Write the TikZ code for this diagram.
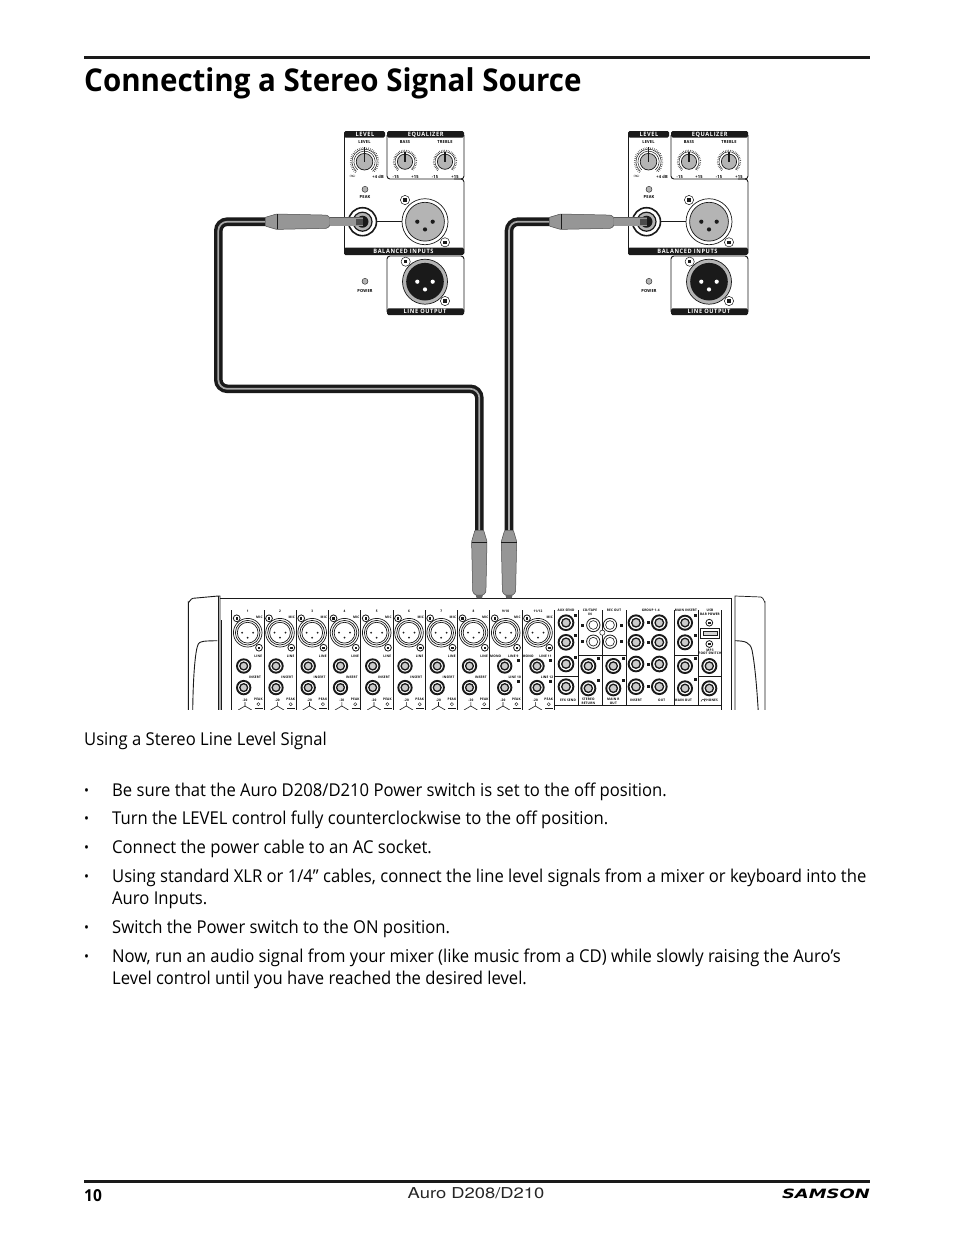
\documentclass[tikz,border=0pt]{standalone}
\usepackage{fontspec}
\setmainfont{Open Sans}[FakeStretch=0.94]
\newfontfamily\footfont{TeX Gyre Heros}[FakeStretch=1.225]
\newfontfamily\logofont{DejaVu Sans}[FakeStretch=1.4]
\usepackage{xcolor}
\usetikzlibrary{positioning}
\definecolor{plugray}{HTML}{969696}
\definecolor{knobgray}{HTML}{B4B4B4}
\definecolor{inkblack}{HTML}{1A1A1A}
\definecolor{striperay}{HTML}{A8A8A8}

\tikzset{
  screw/.pic={
    \draw[inkblack, fill=white, line width=0.5pt] (0,0) circle (4.6);
    \fill[inkblack] (-1.7,-1.7) rectangle (1.7,1.7);
  },
  smallscrew/.pic={
    \draw[inkblack, fill=white, line width=0.8pt] (0,0) circle (3.4);
    \fill[inkblack] (-1.2,-1.2) rectangle (1.2,1.2);
  },
  led/.pic={
    \draw[inkblack, fill=knobgray, line width=0.4pt] (0,0) circle (3);
  },
  knob/.pic={
    \draw[inkblack, fill=knobgray, line width=0.7pt] (0,0) circle (7.6);
    \draw[inkblack, line width=0.5pt] (0,0) ++(130:10) arc[start angle=130, end angle=410, radius=10];
    \draw[inkblack, line width=1.4pt, dash pattern=on 0.4pt off 1.3pt] (0,0) ++(130:11.4) arc[start angle=130, end angle=410, radius=11.4];
    \draw[inkblack, line width=1.3pt] (0,0) -- (0,-9.5);
  },
  levelknob/.pic={
    \draw[inkblack, fill=knobgray, line width=0.7pt] (0,0) circle (8.3);
    \draw[inkblack, line width=0.5pt] (0,0) ++(130:10.6) arc[start angle=130, end angle=410, radius=10.6];
    \draw[inkblack, line width=0.5pt] (0,0) ++(130:12.6) arc[start angle=130, end angle=410, radius=12.6];
    \draw[inkblack, line width=1.5pt, dash pattern=on 0.4pt off 1.5pt] (0,0) ++(130:14) arc[start angle=130, end angle=410, radius=14];
    \draw[inkblack, line width=1.3pt] (0,0) -- (0,-14.5);
  },
  mixjack/.pic={
    \draw[inkblack, fill=white, line width=1.9pt] (0,0) circle (6.7);
    \draw[inkblack, fill=knobgray!70, line width=1.3pt] (0,0) circle (3.9);
  },
  rcajack/.pic={
    \draw[inkblack, fill=white, line width=0.8pt] (0,0) circle (6.7);
    \draw[inkblack, fill=white, line width=0.6pt] (0,0) circle (4.4);
  },
  tagbox/.pic={
    \fill[inkblack] (-1.5,-1.5) rectangle (1.5,1.5);
  },
  mixxlr/.pic={
    \draw[inkblack, fill=white, line width=0.7pt] (0,0) circle (14.3);
    \draw[inkblack, line width=0.7pt] (0,0) circle (12.3);
    \draw[inkblack, line width=0.7pt] (0,0) circle (10.4);
    \fill[inkblack] (-5.5,0) circle (1) (5.5,0) circle (1) (0,5) circle (1);
  },
  plug/.pic={
    \coordinate (-tail) at (0,0);
    \coordinate (-tip) at (65,0);
    \draw[black!70, fill=plugray, line width=0.5pt, rounded corners=1pt]
      (0,-4.3) -- (11.5,-7.7) -- (62,-6.6) -- (65,-4) -- (65,4) -- (62,6.6) -- (11.5,7.7) -- (0,4.3) -- cycle;
    \draw[inkblack, line width=0.8pt] (12.3,-7.7) -- (12.3,7.7);
    \fill[black!60] (65,-3.6) -- (68.3,-2.6) -- (68.3,2.6) -- (65,3.6) -- cycle;
  },
  panel/.pic={
    \fill[inkblack, rounded corners=1.5pt] (0,6.5) -- (0,0) -- (41,0) -- (41,6.5) -- cycle;
    \fill[inkblack, rounded corners=1.5pt] (43,6.5) -- (43,0) -- (120,0) -- (120,6.5) -- cycle;
    \node[headtext] (-leveltab) at (21,5.4) {LEVEL};
    \node[headtext] (-eqtab) at (81.7,5.4) {EQUALIZER};
    \draw[panelline] (0,3) -- (0,122);
    \draw[panelline, rounded corners=3pt] (43,4) -- (43,48) -- (120,48) -- (120,4);
    \draw[panelline, rounded corners=3pt] (110,48) -- (120,48) -- (120,122);
    \fill[inkblack, rounded corners=1.5pt] (0,116.7) rectangle (120,124);
    \node[headtext] (-baltab) at (59.5,122.5) {BALANCED INPUTS};
    \draw[panelline, rounded corners=3pt] (43,181) -- (43,125) -- (120,125) -- (120,181);
    \fill[inkblack, rounded corners=1.5pt] (43,177.3) rectangle (120,184);
    \node[headtext] (-outtab) at (81,182.9) {LINE OUTPUT};
    \pic at (20.5,30.7) {levelknob};
    \pic at (61,30.7) {knob};
    \pic at (101,30.7) {knob};
    \node[panelmicro] (-leveltxt) at (20.5,11.3) {LEVEL};
    \node[panelmicro] (-basstxt) at (61,11.3) {BASS};
    \node[panelmicro] (-trebtxt) at (101,11.3) {TREBLE};
    \node[panelmicro] (-lvlmin) at (8.5,45.7) {$\infty$};
    \node[panelmicro] (-lvlmax) at (34,45.7) {+4 dB};
    \node[panelmicro] (-bassmin) at (51.7,45.7) {-15};
    \node[panelmicro] (-bassmax) at (71,45.7) {+15};
    \node[panelmicro] (-trebmin) at (91,45.7) {-15};
    \node[panelmicro] (-trebmax) at (111,45.7) {+15};
    \pic at (21,58.3) {led};
    \node[panelmicro] (-peaktxt) at (21,65.7) {PEAK};
    \draw[inkblack, line width=0.7pt] (18.5,90.7) -- (81,90.7);
    \node[circle, draw=inkblack, fill=white, line width=1.6pt, minimum size=28pt, inner sep=0pt] (-jack) at (18.5,90.7) {};
    \draw[inkblack, fill=knobgray, line width=1.2pt] (18.5,90.7) circle (9.5);
    \fill[inkblack] (18.5,90.7) circle (6);
    \node[circle, draw=inkblack, fill=white, line width=0.7pt, minimum size=46pt, inner sep=0pt] (-xlrin) at (81,90.7) {};
    \draw[inkblack, fill=knobgray, line width=0.7pt] (81,90.7) circle (19.4);
    \fill[inkblack] (73.3,90.7) circle (2.1) (88.7,90.7) circle (2.1) (81,98.4) circle (2.1);
    \pic at (61,69) {screw};
    \pic at (101,111.3) {screw};
    \pic at (21,150.3) {led};
    \node[panelmicro] (-powertxt) at (21,159.7) {POWER};
    \node[circle, draw=inkblack, fill=knobgray, line width=0.7pt, minimum size=45pt, inner sep=0pt] (-xlrout) at (81,150.7) {};
    \fill[inkblack] (81,150.7) circle (18.8);
    \fill[white] (73.3,150.7) circle (2.1) (88.7,150.7) circle (2.1) (81,158.4) circle (2.1);
    \pic at (61.7,130.7) {screw};
    \pic at (101,170) {screw};
  },
}

\begin{document}
\begin{tikzpicture}[
  x=1pt, y=-1pt,
  headtext/.style={font=\fontsize{6}{6}\selectfont\bfseries\addfontfeature{LetterSpace=10}, text=white, inner sep=0pt, anchor=base},
  panelmicro/.style={font=\fontsize{4.2}{4.2}\selectfont\bfseries\addfontfeature{LetterSpace=5}, inner sep=0pt},
  micro/.style={font=\fontsize{3.3}{3.6}\selectfont\bfseries\addfontfeature{LetterSpace=6}, inner sep=0pt, align=center},
  bodyline/.style={anchor=base west, inner sep=0pt, font=\fontsize{17.7}{20}\selectfont},
  bulletdot/.style={anchor=base west, inner sep=0pt, yshift=1pt, font=\fontsize{14}{16}\selectfont},
  panelline/.style={inkblack, line width=0.9pt},
  mixerline/.style={inkblack, line width=1pt},
  handleline/.style={inkblack, line width=0.7pt},
  cable/.style={inkblack, line width=8.6pt, rounded corners=9pt},
  cablestripe/.style={striperay, line width=1.7pt, rounded corners=9pt},
  sleeve/.style={black!65, line width=9.4pt},
  sleevefill/.style={plugray, line width=8.4pt},
  sleevetip/.style={black!70, line width=6.4pt}
]
  \useasboundingbox (0,0) rectangle (954,1235);
  \fill[white] (0,0) rectangle (954,1235);

  \fill[inkblack] (84,56.3) rectangle (870,59.3);
  \node[anchor=base west, inner sep=0pt, font=\fontsize{31.4}{34}\selectfont\bfseries] (title) at (84,91.5) {Connecting a Stereo Signal Source};

  \pic (panelL) at (344,131) {panel};
  \pic (panelR) at (628,131) {panel};

  \begin{scope}
    \clip (180,590) rectangle (780,709.3);
    \draw[mixerline] (220,598.3) -- (731.7,598.3);
    \draw[handleline, line width=0.9pt] (188.3,712) -- (188.3,602) to[out=-90, in=180] (193,598.3) -- (218.3,596) -- (220,596) -- (220,712);
    \draw[handleline] (218.3,596) -- (218.3,712);
    \draw[mixerline] (221.7,620) -- (221.7,712);
    \draw[handleline, line width=0.9pt] (192.7,712) .. controls (193,680) and (195,650) .. (198.3,644) .. controls (200,641) and (204,641) .. (217.3,640.7);
    \draw[mixerline] (731.7,598.3) -- (731.7,712);
    \draw[handleline] (735,712) -- (735,596) -- (761,597) to[out=0, in=-90] (765,602) -- (765,712);
    \draw[handleline, line width=0.9pt] (735,640.7) .. controls (745,641) and (750,642) .. (752,650) .. controls (755,665) and (757,690) .. (758.3,712);

    \foreach \x/\chname/\i in {231.7/1/1, 264/2/2, 296.2/3/3, 328.5/4/4, 360.7/5/5, 393/6/6, 425.2/7/7, 457.5/8/8, 489.7/9\slash10/9, 522/11\slash12/10} {
      \begin{scope}[shift={(\x,0)}]
        \draw[mixerline] (0,610) -- (0,712);
        \node[micro] (chnum\i) at (16,611.5) {\chname};
        \node[micro] (chmic\i) at (27.7,617.3) {MIC};
        \pic at (16,632.7) {mixxlr};
        \pic at (5,618.3) {smallscrew};
        \pic at (27.3,647.7) {smallscrew};
        \node[micro] (chpeak\i) at (26.7,699.6) {PEAK};
        \draw[inkblack, line width=0.4pt] (26.7,704.2) circle (1.6);
        \node[micro] (chgain\i) at (13.3,700) {-20};
        \draw[inkblack, line width=0.6pt] (13.3,702) -- (13.3,706) (6.5,710) -- (13.3,706) -- (20,710);
        \draw[inkblack, line width=1pt] (23,708.6) -- (31,708.6);
      \end{scope}
    }
    \foreach \x/\i in {231.7/1, 264/2, 296.2/3, 328.5/4, 360.7/5, 393/6, 425.2/7, 457.5/8} {
      \pic at (\x+12,666) {mixjack};
      \pic at (\x+12,687.6) {mixjack};
      \node[micro] (chline\i) at (\x+26.6,656) {LINE};
      \node[micro] (chins\i) at (\x+23.3,677.3) {INSERT};
    }
    \foreach \x/\i/\la/\lb in {489.7/9/LINE 9/LINE 10, 522/10/LINE 11/LINE 12} {
      \pic at (\x+15,666) {mixjack};
      \pic at (\x+15,687.6) {mixjack};
      \node[micro] (chmono\i) at (\x+6,656) {MONO};
      \node[micro] (chla\i) at (\x+23.5,656) {\la};
      \node[micro] (chlb\i) at (\x+25,677.3) {\lb};
      \pic at (\x+28.5,660.7) {tagbox};
      \pic at (\x+28.5,681.7) {tagbox};
    }

    \draw[mixerline] (554.3,610) -- (554.3,712);
    \foreach \x in {578.3, 602.3, 626.7, 674.3, 698.3} {
      \draw[mixerline] (\x,610) -- (\x,705);
    }
    \draw[mixerline] (721.7,610) -- (721.7,712);
    \draw[mixerline] (554.3,705) -- (721.7,705);
    \draw[mixerline] (554.3,676.7) -- (578.3,676.7);
    \draw[mixerline] (578.3,655) -- (626.7,655);
    \draw[mixerline] (674.3,655.7) -- (698.3,655.7);
    \draw[mixerline] (698.3,676) -- (721.7,676);

    \foreach \y in {622.7, 642.3, 664, 686.7} {
      \pic[scale=1.1] at (566,\y) {mixjack};
      \pic[scale=1.1] at (636,\y) {mixjack};
      \pic[scale=1.1] at (659.3,\y) {mixjack};
      \pic at (648,\y) {tagbox};
    }
    \foreach \y in {625, 641.7} {
      \pic at (593.3,\y) {rcajack};
      \pic at (610,\y) {rcajack};
      \pic at (582.7,\y) {tagbox};
      \pic at (621,\y) {tagbox};
    }
    \draw[inkblack, fill=white, line width=0.5pt] (602.3,632.7) circle (2.6);
    \foreach \x in {588.3, 613.3, 709.3} {
      \pic[scale=1.05] at (\x,666) {mixjack};
      \pic[scale=1.05] at (\x,688.3) {mixjack};
    }
    \foreach \y in {622.7, 642.3, 666, 688.3} {
      \pic[scale=1.05] at (685,\y) {mixjack};
    }
    \foreach \x/\y in {575/615, 575/635, 575/657, 598/658, 598/680, 623/658, 623/680, 695/615.7, 695/635.7, 695/658, 695/679} {
      \pic at (\x,\y) {tagbox};
    }
    \pic at (709.3,622.7) {smallscrew};
    \pic at (709.3,644) {smallscrew};
    \draw[inkblack, fill=white, line width=0.8pt] (700.3,628) rectangle (719.7,638.7);
    \draw[inkblack, fill=knobgray!60, line width=0.5pt] (703,631) rectangle (717,635.7);

    \node[micro] (auxsend) at (566,610.7) {AUX SEND};
    \node[micro] (cdtape) at (590,612.2) {CD/TAPE\\IN};
    \node[micro] (recout) at (614,610.7) {REC OUT};
    \node[micro] (grouplab) at (650.7,610.7) {GROUP 1-4};
    \node[micro] (maininsert) at (686,610.7) {MAIN INSERT};
    \node[micro] (usblab) at (710,612.2) {USB\\BAR POWER};
    \node[micro] (mpthree) at (710,651.7) {MP3\\FOOT SWITCH};
    \node[micro] (efxsend) at (568,700) {EFX SEND};
    \node[micro] (stereoret) at (588.3,701.5) {STEREO\\RETURN};
    \node[micro] (mainr) at (613.3,701.5) {MAIN R\\OUT};
    \node[micro] (insertlab) at (636,700) {INSERT};
    \node[micro] (outlab) at (661.7,700) {OUT};
    \node[micro] (mainout) at (683.3,700) {MAIN OUT};
    \node[micro] (phones) at (711,700) {PHONES};
    \draw[inkblack, line width=0.5pt] (701,701.5) arc[start angle=180, end angle=360, radius=2];
  \end{scope}

  \pic (plugL) at (265,221.7) {plug};
  \pic (plugR) at (549,221.7) {plug};
  \pic[rotate=-90] (plugA) at (479.3,530) {plug};
  \pic[rotate=-90] (plugB) at (509,530) {plug};

  \draw[sleeve] (plugL-tip) -- (panelL-jack.center);
  \draw[sleevefill] (plugL-tip) -- (panelL-jack.center);
  \draw[sleevetip] (panelL-jack.center) -- ++(-7,0);
  \draw[sleeve] (plugR-tip) -- (panelR-jack.center);
  \draw[sleevefill] (plugR-tip) -- (panelR-jack.center);
  \draw[sleevetip] (panelR-jack.center) -- ++(-7,0);

  \coordinate (bendLa) at (218.3,221.7);
  \coordinate (bendLb) at (218.3,388.8);
  \coordinate (bendLc) at (479.3,388.8);
  \coordinate (bendRa) at (509,221.7);

  \draw[cable] (plugL-tail) -- (bendLa) -- (bendLb) -- (bendLc) -- (plugA-tail);
  \draw[cablestripe] (plugL-tail) -- (bendLa) -- (bendLb) -- (bendLc) -- (plugA-tail);
  \draw[cable] (plugR-tail) -- (bendRa) -- (plugB-tail);
  \draw[cablestripe] (plugR-tail) -- (bendRa) -- (plugB-tail);

  \node[bodyline] (intro) at (84,745) {Using a Stereo Line Level Signal};
  \foreach \y/\i in {796/1, 824/2, 853/3, 882/4, 933/5, 962/6} {
    \node[bulletdot] (dot\i) at (84,\y) {•};
  }
  \node[bodyline] (lineA) at (112,796) {Be sure that the Auro D208/D210 Power switch is set to the off position.};
  \node[bodyline] (lineB) at (112,824) {Turn the LEVEL control fully counterclockwise to the off position.};
  \node[bodyline] (lineC) at (112,853) {Connect the power cable to an AC socket.};
  \node[bodyline] (lineD) at (112,882) {Using standard XLR or 1/4” cables, connect the line level signals from a mixer or keyboard into the};
  \node[bodyline] (lineE) at (112,904) {Auro Inputs.};
  \node[bodyline] (lineF) at (112,933) {Switch the Power switch to the ON position.};
  \node[bodyline] (lineG) at (112,962) {Now, run an audio signal from your mixer (like music from a CD) while slowly raising the Auro’s};
  \node[bodyline] (lineH) at (112,984) {Level control until you have reached the desired level.};

  \fill[inkblack] (84,1180) rectangle (870,1182.8);
  \node[anchor=base west, inner sep=0pt, font=\fontsize{16.5}{18}\selectfont\bfseries] (pagenum) at (84,1201) {10};
  \node[anchor=base, inner sep=0pt, text=black!85, font=\footfont\fontsize{15}{17}\selectfont] (footer) at (476,1198.5) {Auro D208/D210};
  \node[anchor=base east, inner sep=0pt, font=\logofont\fontsize{12.8}{14}\selectfont\bfseries\itshape] (logo) at (870,1198.5) {SAMSON};
\end{tikzpicture}
\end{document}
